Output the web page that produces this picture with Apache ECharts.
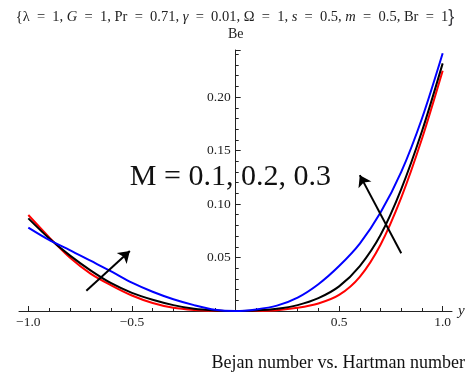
<!DOCTYPE html>
<html>
<head>
<meta charset="utf-8">
<script src="https://cdn.jsdelivr.net/npm/echarts@6/dist/echarts.min.js"></script>
<style>
  html, body { margin: 0; padding: 0; background: #fff; }
  #chart { width: 470px; height: 379px; }
</style>
</head>
<body>
<div id="chart"></div>
<script>
// y positions along the channel
const yValues = [-1.0, -0.9, -0.8, -0.7, -0.6, -0.5, -0.4, -0.3, -0.2, -0.1, 0,
  0.1, 0.2, 0.3, 0.4, 0.5, 0.6, 0.7, 0.8, 0.9, 1.0]

// Bejan number for M = 0.1, 0.2, 0.3
const beM01 = [0.0897, 0.069, 0.050, 0.035, 0.024, 0.0145, 0.0075, 0.003, 0.001, 0.0002, 0,
  0.0001, 0.0008, 0.003, 0.007, 0.015, 0.032, 0.062, 0.106, 0.161, 0.2246]
const beM02 = [0.0866, 0.068, 0.052, 0.038, 0.026, 0.017, 0.0105, 0.0055, 0.002, 0.0005, 0,
  0.0004, 0.002, 0.0055, 0.012, 0.023, 0.042, 0.071, 0.114, 0.168, 0.2315]
const beM03 = [0.078, 0.0665, 0.057, 0.047, 0.037, 0.0265, 0.018, 0.011, 0.0055, 0.0012, 0,
  0.0015, 0.005, 0.0125, 0.025, 0.042, 0.063, 0.092, 0.130, 0.180, 0.241]

const seriesColors = ['#ff0000', '#000000', '#0000ff']

// arrows (data coords, tail -> head)
const arrowLeft = [[-0.72, 0.019], [-0.51, 0.056]]
const arrowRight = [[0.80, 0.054], [0.60, 0.127]]
const labelAt = [-0.51, 0.125]

const xLabelValues = [-1.0, -0.5, 0.5, 1.0]
const xMinorTicks = [-1.0, -0.9, -0.8, -0.7, -0.6, -0.5, -0.4, -0.3, -0.2, -0.1,
  0.1, 0.2, 0.3, 0.4, 0.5, 0.6, 0.7, 0.8, 0.9, 1.0]

const serif = '"Liberation Serif", "DejaVu Serif", serif'
const sp = '\u2002'

const chart = echarts.init(document.getElementById('chart'))

function pairs(ys) {
  return yValues.map((x, i) => [x, ys[i]])
}

function arrow(a) {
  return [{ coord: a[0] }, { coord: a[1] }]
}

const eq = sp + '=' + sp

chart.setOption({
  animation: false,
  title: {
    text: '{a|{λ' + eq + '1, }{i|G}{a|' + eq + '1, Pr' + eq + '0.71, }{i|γ}{a|' + eq + '0.01, Ω' + eq + '1, }{i|s}{a|' + eq +
      '0.5, }{i|m}{a|' + eq + '0.5, Br' + eq + '1}}',
    left: 'center',
    top: 3,
    textStyle: {
      fontWeight: 'normal',
      rich: {
        a: { fontFamily: serif, fontSize: 14.5, color: '#222', fontWeight: 'normal' },
        i: { fontFamily: serif, fontSize: 14.5, color: '#222', fontStyle: 'italic', fontWeight: 'normal' },
      },
    },
  },
  graphic: [
    {
      type: 'text',
      right: 5,
      top: 354,
      style: {
        text: 'Bejan number vs. Hartman number',
        font: '18px ' + serif,
        fill: '#111',
      },
    },
  ],
  grid: { left: 19, right: 18, top: 50, bottom: 68, outerBoundsMode: 'none' },
  xAxis: [
    {
      type: 'value',
      min: -1.045,
      max: 1.045,
      name: 'y',
      nameLocation: 'end',
      nameGap: 6,
      nameTextStyle: { fontFamily: serif, fontStyle: 'italic', fontSize: 15, color: '#222', verticalAlign: 'middle', padding: [0, 0, 9, 0] },
      axisLine: { onZero: false, lineStyle: { color: '#222', width: 1 } },
      axisTick: { inside: true, length: 3, customValues: xMinorTicks, lineStyle: { color: '#222' } },
      axisLabel: {
        customValues: xLabelValues,
        fontFamily: serif,
        fontSize: 13.5,
        color: '#222',
        margin: 4,
        formatter: (v) => (v < 0 ? '\u2212' : '') + Math.abs(v).toFixed(1),
      },
      splitLine: { show: false },
    },
    {
      type: 'value',
      position: 'bottom',
      min: -1.045,
      max: 1.045,
      axisLine: { show: false, onZero: false },
      axisTick: { inside: true, length: 5, customValues: xLabelValues, lineStyle: { color: '#222' } },
      axisLabel: { show: false },
      splitLine: { show: false },
    },
  ],
  yAxis: {
    type: 'value',
    position: 'left',
    offset: -216.7,
    min: 0,
    max: 0.244,
    interval: 0.05,
    name: 'Be',
    nameLocation: 'end',
    nameGap: 9,
    nameTextStyle: { fontFamily: serif, fontSize: 14, color: '#222' },
    axisLine: { show: true, onZero: false, lineStyle: { color: '#222', width: 1 } },
    axisTick: { inside: true, length: 5, lineStyle: { color: '#222' } },
    minorTick: { show: true, splitNumber: 5, length: 3, lineStyle: { color: '#222' } },
    axisLabel: {
      fontFamily: serif,
      fontSize: 13.5,
      color: '#222',
      margin: 5,
      showMinLabel: false,
      showMaxLabel: false,
      formatter: (v) => v.toFixed(2),
    },
    splitLine: { show: false },
  },
  series: [
    {
      type: 'line',
      data: pairs(beM01),
      smooth: 0.3,
      symbol: 'none',
      lineStyle: { color: seriesColors[0], width: 2 },
    },
    {
      type: 'line',
      data: pairs(beM02),
      smooth: 0.3,
      symbol: 'none',
      lineStyle: { color: seriesColors[1], width: 2 },
    },
    {
      type: 'line',
      data: pairs(beM03),
      smooth: 0.3,
      symbol: 'none',
      lineStyle: { color: seriesColors[2], width: 2 },
      markLine: {
        silent: true,
        symbol: ['none', 'arrow'],
        symbolSize: 11,
        label: { show: false },
        lineStyle: { color: '#000', width: 2, type: 'solid' },
        data: [arrow(arrowLeft), arrow(arrowRight)],
      },
      markPoint: {
        symbol: 'circle',
        symbolSize: 0,
        data: [{ coord: labelAt }],
        label: {
          show: true,
          position: 'right',
          distance: 0,
          formatter: 'M = 0.1, 0.2, 0.3',
          fontFamily: serif,
          fontSize: 30,
          color: '#111',
        },
      },
    },
  ],
})
</script>
</body>
</html>
